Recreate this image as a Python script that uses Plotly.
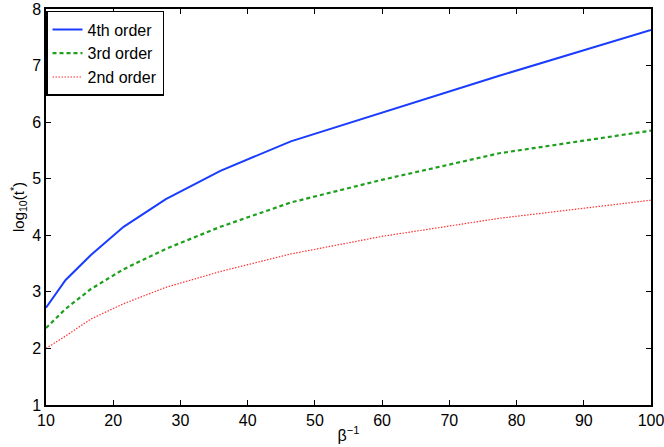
import plotly.graph_objects as go

beta_inv = [10.0, 12.92, 16.68, 21.54, 27.83, 35.94, 46.42, 59.95, 77.43, 100.0]
order4 = [2.72, 3.21, 3.65, 4.15, 4.64, 5.14, 5.66, 6.17, 6.82, 7.63]
order3 = [2.36, 2.70, 3.05, 3.40, 3.76, 4.15, 4.58, 4.98, 5.45, 5.85]
order2 = [2.00, 2.22, 2.52, 2.79, 3.08, 3.36, 3.67, 3.98, 4.30, 4.62]
x_ticks = [10, 20, 30, 40, 50, 60, 70, 80, 90, 100]
y_ticks = [1, 2, 3, 4, 5, 6, 7, 8]

fig = go.Figure()
fig.add_trace(go.Scatter(x=beta_inv, y=order4, mode="lines", name="4th order",
                         line=dict(color="#1a3cff", width=2)))
fig.add_trace(go.Scatter(x=beta_inv, y=order3, mode="lines", name="3rd order",
                         line=dict(color="#1ea01e", width=2.2, dash="4px,3px")))
fig.add_trace(go.Scatter(x=beta_inv, y=order2, mode="lines", name="2nd order",
                         line=dict(color="#ff3030", width=1.2, dash="1.5px,1.5px")))

axis_common = dict(showline=True, linecolor="black", linewidth=1.5, mirror="ticks",
                   ticks="inside", ticklen=5, tickcolor="black", showgrid=False,
                   zeroline=False, automargin=False, ticklabeloverflow="allow",
                   tickfont=dict(size=16, color="black"))
fig.update_xaxes(range=[10, 100], tickvals=x_ticks,
                 title=dict(text="β<sup>−1</sup>", font=dict(size=16, color="black"), standoff=2),
                 **axis_common)
fig.update_yaxes(range=[1, 8], tickvals=y_ticks,
                 title=dict(text="log<sub>10</sub>(t<sup>*</sup>)", font=dict(size=15, color="black"), standoff=4),
                 **axis_common)

fig.update_layout(
    width=664, height=447,
    margin=dict(l=46, r=13, t=9, b=42),
    paper_bgcolor="white", plot_bgcolor="white",
    font=dict(family="Liberation Sans, Arial, sans-serif", size=16, color="black"),
    legend=dict(x=0.0, y=0.995, xanchor="left", yanchor="top",
                bgcolor="white", bordercolor="black", borderwidth=1.5,
                font=dict(size=16), tracegroupgap=0, itemwidth=30),
    showlegend=True,
)

fig.write_html("out.html", config={"displayModeBar": False},
               post_script="document.body.style.margin='0';document.body.style.overflow='hidden';")
